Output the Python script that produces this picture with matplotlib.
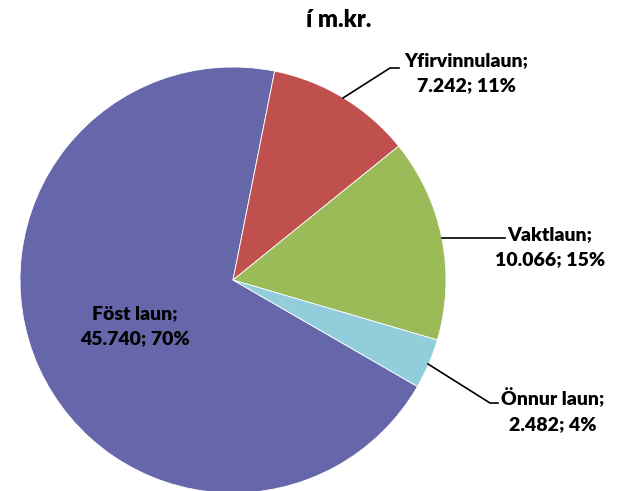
#Pie chart of wage costs (in m.kr.) split by wage type
import matplotlib.pyplot as plt

#Data
categories = ['Föst laun', 'Yfirvinnulaun', 'Vaktlaun', 'Önnur laun']
values = [45740, 7242, 10066, 2482]
colors = ['#6666AA', '#C0504D', '#9BBB59', '#92CDDC']

plt.rcParams['font.family'] = ['Lato', 'DejaVu Sans']

W, H = 617, 491
fig = plt.figure(figsize=(W/100, H/100), dpi=100)
ax = fig.add_axes([0, 0, 1, 1])

#Pie in pixel coordinates (y measured from the bottom)
cx, cy, r = 233, H-280, 213
wedges, _ = ax.pie(values, colors=colors, startangle=-30, counterclock=False,
                   center=(cx, cy), radius=r, frame=True,
                   wedgeprops=dict(edgecolor='white', linewidth=0.6))
ax.set_xlim(0, W)
ax.set_ylim(0, H)
ax.set_aspect('equal')
ax.axis('off')

total = sum(values)
def label(i):
    v = f"{values[i]:,}".replace(',', '.')
    return f"{categories[i]};\n{v}; {round(100*values[i]/total)}%"

txt = dict(fontsize=14, fontweight='heavy', ha='center', va='center',
           linespacing=1.6, color='black')

#Title
ax.text(339, H-20, 'í m.kr.', **{**txt, 'fontsize': 17})

#Labels: Föst laun inside, others outside with leader lines
ax.text(135, H-326, label(0), **txt)
ax.text(466, H-73, label(1), **txt)
ax.text(550, H-247, label(2), **txt)
ax.text(553, H-411, label(3), **txt)

ax.plot([343, 390, 399], [H-98, H-68, H-68], color='black', lw=1.2)
ax.plot([442, 505], [H-238, H-238], color='black', lw=1.2)
ax.plot([428, 490, 498], [H-364, H-403, H-403], color='black', lw=1.2)

fig.savefig('out.png', dpi=100)
